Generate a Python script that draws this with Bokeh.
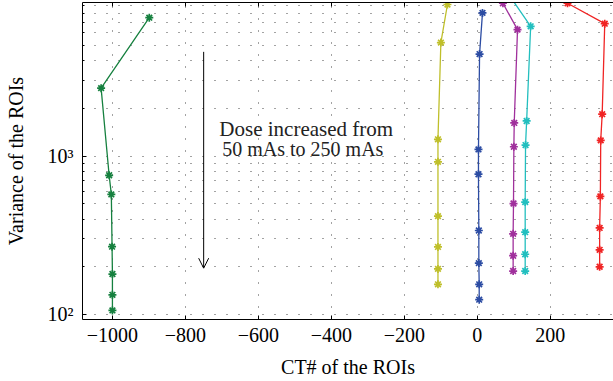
from bokeh.plotting import figure
from bokeh.models import (Range1d, LogAxis, LinearAxis, FixedTicker, Label, Arrow, OpenHead, Span)
from bokeh.embed import file_html
from bokeh.resources import INLINE

# ---- data ----
green_x = [-899, -1031, -1009, -1003, -1001, -1000, -1000, -1000]
green_y = [7500, 2690, 757, 573, 268, 180, 133, 106]

yellow_x = [-82, -100, -108, -108, -108, -108, -108, -108]
yellow_y = [9080, 5220, 1277, 921, 418, 267, 194, 155]

blue_x = [14, 6, 3, 3, 4, 4, 5, 5]
blue_y = [8040, 4415, 1103, 769, 339, 211, 155, 124]

magenta_x = [70, 110, 101, 100, 99, 98, 98, 98]
magenta_y = [9250, 6300, 1622, 1147, 502, 323, 235, 188]

cyan_x = [80, 146, 135, 132, 131, 131, 131, 131]
cyan_y = [11000, 6610, 1669, 1175, 513, 331, 240, 188]

red_x = [247, 349, 342, 338, 337, 335, 335, 335]
red_y = [9250, 6870, 1842, 1258, 557, 352, 256, 200]

series = [
    (green_x, green_y, "#16803f"),
    (yellow_x, yellow_y, "#bfbf2a"),
    (blue_x, blue_y, "#2c4ca3"),
    (magenta_x, magenta_y, "#a0309c"),
    (cyan_x, cyan_y, "#22bfbf"),
    (red_x, red_y, "#f02424"),
]

x_ticks = [-1000, -800, -600, -400, -200, 0, 200]
x_tick_labels = {t: ("\u2212" + str(-t) if t < 0 else str(t)) for t in x_ticks}
y_ticks = [100, 1000]
y_tick_labels = {100: "10\u00b2", 1000: "10\u00b3"}
y_minor = [m * 10 ** k for k in (1, 2, 3) for m in range(2, 10)]

FONT = "Liberation Serif"
Y_TOP = 9350

p = figure(width=613, height=381, output_backend="svg", toolbar_location=None,
           x_range=Range1d(-1082, 373), y_range=Range1d(92.9, Y_TOP),
           y_axis_type="log", min_border_left=82, min_border_right=0,
           min_border_top=2, min_border_bottom=62)
p.outline_line_color = None
p.background_fill_color = "white"
p.border_fill_color = "white"

for xs, ys, c in series:
    p.line(xs, ys, line_color=c, line_width=1.3)
    p.scatter(xs, ys, marker="asterisk", size=8, line_color=c, line_width=1.7)

xt = FixedTicker(ticks=x_ticks)
yt = FixedTicker(ticks=y_ticks, minor_ticks=y_minor)

def style(ax):
    ax.axis_line_color = "black"
    ax.axis_line_width = 1
    ax.major_tick_in = 4
    ax.major_tick_out = 0
    ax.minor_tick_in = 2
    ax.minor_tick_out = 0
    ax.major_tick_line_color = "black"
    ax.minor_tick_line_color = "black"
    ax.major_label_text_font = FONT
    ax.major_label_text_font_size = "20px"
    ax.major_label_text_color = "black"
    ax.axis_label_text_font = FONT
    ax.axis_label_text_font_size = "20px"
    ax.axis_label_text_font_style = "normal"
    ax.axis_label_text_color = "black"

xa = p.xaxis[0]
xa.ticker = xt
xa.major_label_overrides = x_tick_labels
xa.axis_label = "CT# of the ROIs"
style(xa)
xa.minor_tick_line_color = None
xa.major_label_standoff = 8
xa.axis_label_standoff = 11

ya = p.yaxis[0]
ya.ticker = yt
ya.major_label_overrides = y_tick_labels
ya.axis_label = "Variance of the ROIs"
style(ya)
ya.major_label_standoff = 9
ya.axis_label_standoff = 18

# top frame line with inward ticks (unlabelled: ticks given as minor ticks)
top = LinearAxis(ticker=FixedTicker(ticks=[], minor_ticks=x_ticks),
                 axis_line_color="black", major_tick_line_color=None,
                 minor_tick_in=4, minor_tick_out=0, minor_tick_line_color="black",
                 major_label_standoff=0, axis_label_standoff=0)
p.add_layout(top, "above")

p.xgrid.ticker = xt
p.ygrid.ticker = yt
for g in (p.xgrid[0], p.ygrid[0]):
    g.grid_line_color = "#333333"
    g.grid_line_dash = "1 11"
    g.grid_line_width = 1
    g.grid_line_alpha = 0.9
p.ygrid[0].minor_grid_line_color = "#333333"
p.ygrid[0].minor_grid_line_dash = "1 11"
p.ygrid[0].minor_grid_line_alpha = 0.9
p.xgrid[0].minor_grid_line_color = None

p.add_layout(Arrow(end=OpenHead(size=10, line_width=1, line_color="black"),
                   x_start=-750, y_start=4560, x_end=-750, y_end=196,
                   line_width=1, line_color="black"))

p.add_layout(Label(x=-707, y=1479, text="Dose increased from", text_font=FONT,
                   text_font_size="21px", text_baseline="alphabetic", text_color="#222222"))
p.add_layout(Label(x=-699, y=1103, text="50 mAs to 250 mAs", text_font=FONT,
                   text_font_size="20px", text_baseline="alphabetic", text_color="#222222"))

open("out.html", "w").write(file_html(p, INLINE))
